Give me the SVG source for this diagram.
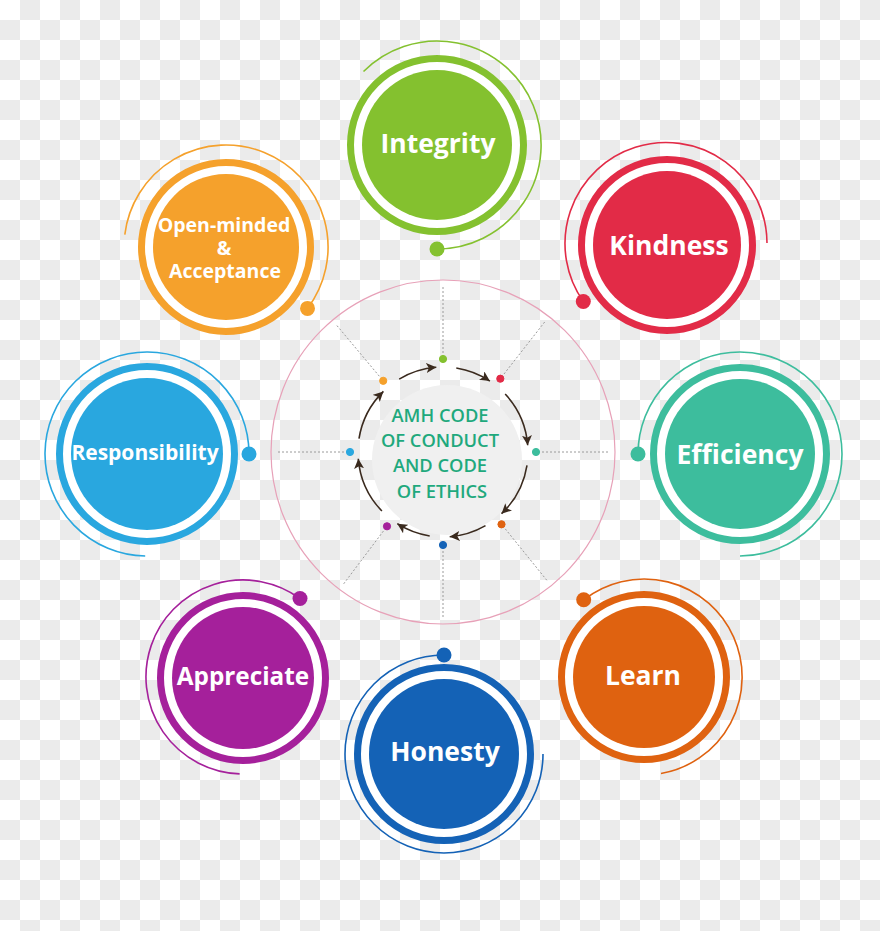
<svg xmlns="http://www.w3.org/2000/svg" width="880" height="931" viewBox="0 0 880 931">
<defs>
<pattern id="checker" width="40" height="40" patternUnits="userSpaceOnUse">
<rect width="40" height="40" fill="#ffffff"/>
<rect x="20" y="0" width="20" height="20" fill="#ebebeb"/>
<rect x="0" y="20" width="20" height="20" fill="#ebebeb"/>
</pattern>
<marker id="arrow" markerUnits="userSpaceOnUse" markerWidth="11" markerHeight="10" refX="10" refY="5" orient="auto">
<path d="M0,0 L10,5 L0,10 L2.5,5 z" fill="#3a2a1e"/>
</marker>
<style>
.thin{fill:none;stroke-width:1.6}
.ring{fill:#ffffff;stroke-width:7}
.lbl{font-family:"Open Sans","Liberation Sans",sans-serif;font-weight:700;fill:#ffffff;text-anchor:middle}
.ctr{font-family:"Open Sans","Liberation Sans",sans-serif;font-weight:600;font-size:18.3px;fill:#1fa97d;text-anchor:middle}
.dotted{stroke:#9a9a9a;stroke-width:1;stroke-dasharray:2 2;fill:none}
.flow{fill:none;stroke:#3a2a1e;stroke-width:1.6;marker-end:url(#arrow)}
.green{stroke:#84c12f;fill:#84c12f}
.red{stroke:#e22b47;fill:#e22b47}
.teal{stroke:#3dbd9d;fill:#3dbd9d}
.orange{stroke:#df6210;fill:#df6210}
.blue{stroke:#1462b6;fill:#1462b6}
.purple{stroke:#a5209b;fill:#a5209b}
.sky{stroke:#29a7df;fill:#29a7df}
.amber{stroke:#f5a12c;fill:#f5a12c}
</style>
</defs>
<rect width="880" height="931" fill="url(#checker)"/>

<g id="hub">
<circle cx="443" cy="452" r="172" fill="none" stroke="#e7a1b8" stroke-width="1.2"/>
<circle cx="447" cy="460" r="75" fill="#f0f0f0"/>
<text class="ctr" x="440" y="422">AMH CODE</text>
<text class="ctr" x="440" y="447">OF CONDUCT</text>
<text class="ctr" x="440" y="472">AND CODE</text>
<text class="ctr" x="442" y="498">OF ETHICS</text>
</g>

<g id="connectors">
<line class="dotted" x1="443" y1="353" x2="443" y2="286"/>
<line class="dotted" x1="504" y1="374" x2="545.3" y2="321.2"/>
<line class="dotted" x1="542" y1="452" x2="609" y2="452"/>
<line class="dotted" x1="505.3" y1="528.9" x2="547.4" y2="581"/>
<line class="dotted" x1="443" y1="551" x2="443" y2="618"/>
<line class="dotted" x1="383.4" y1="531.1" x2="343.1" y2="584.6"/>
<line class="dotted" x1="344" y1="452" x2="277" y2="452"/>
<line class="dotted" x1="379.3" y1="376.2" x2="336.3" y2="324.8"/>
<path class="flow" d="M399.2,379.1 A85,85 0 0 1 436.3,367.3"/>
<path class="flow" d="M456.3,368 A85,85 0 0 1 489.9,381.1"/>
<path class="flow" d="M505.2,394 A85,85 0 0 1 527.7,445.3"/>
<path class="flow" d="M527,465.3 A85,85 0 0 1 501.5,513.7"/>
<path class="flow" d="M485.5,525.6 A85,85 0 0 1 449.7,536.7"/>
<path class="flow" d="M429.7,536 A85,85 0 0 1 397.3,523.7"/>
<path class="flow" d="M381.9,511 A85,85 0 0 1 358.3,458.7"/>
<path class="flow" d="M359,438.7 A85,85 0 0 1 383.4,391.4"/>
<circle class="green" cx="443" cy="359" r="3.6"/>
<circle class="red" cx="500.3" cy="378.7" r="3.6"/>
<circle class="teal" cx="536" cy="452" r="3.6"/>
<circle class="orange" cx="501.5" cy="524.3" r="3.6"/>
<circle class="blue" cx="443" cy="545" r="3.6"/>
<circle class="purple" cx="387" cy="526.3" r="3.6"/>
<circle class="sky" cx="350" cy="452" r="3.6"/>
<circle class="amber" cx="383.2" cy="380.8" r="3.6"/>
</g>

<g id="integrity">
<path class="thin green" style="fill:none" d="M363.5,71.5 A104,104 0 1 1 437,249"/>
<circle class="ring green" style="fill:#fff" cx="437" cy="145" r="86.5"/>
<circle class="green" style="stroke:none" cx="437" cy="145" r="75"/>
<circle class="green" style="stroke:none" cx="437" cy="249" r="7.5"/>
<text class="lbl" x="438" y="152.5" font-size="26.5">Integrity</text>
</g>

<g id="kindness">
<path class="thin red" style="fill:none" d="M583.3,301.5 A101,101 0 1 1 767,243"/>
<circle class="ring red" style="fill:#fff" cx="667" cy="245" r="85.5"/>
<circle class="red" style="stroke:none" cx="667" cy="245" r="74"/>
<circle class="red" style="stroke:none" cx="583.3" cy="301.5" r="7.5"/>
<text class="lbl" x="669" y="255" font-size="26.5">Kindness</text>
</g>

<g id="efficiency">
<path class="thin teal" style="fill:none" d="M638,454 A102,102 0 1 1 740,556"/>
<circle class="ring teal" style="fill:#fff" cx="740" cy="454" r="86.5"/>
<circle class="teal" style="stroke:none" cx="740" cy="454" r="75"/>
<circle class="teal" style="stroke:none" cx="638" cy="454" r="7.5"/>
<text class="lbl" x="740" y="463.5" font-size="26.5">Efficiency</text>
</g>

<g id="learn">
<path class="thin orange" style="fill:none" d="M583.7,599.8 A98,98 0 1 1 661,773.5"/>
<circle class="ring orange" style="fill:#fff" cx="644" cy="677" r="82.5"/>
<circle class="orange" style="stroke:none" cx="644" cy="677" r="71"/>
<circle class="orange" style="stroke:none" cx="583.7" cy="599.8" r="7.5"/>
<text class="lbl" x="643" y="684.5" font-size="26.5">Learn</text>
</g>

<g id="honesty">
<path class="thin blue" style="fill:none" d="M444,655 A99,99 0 1 0 543,754"/>
<circle class="ring blue" style="fill:#fff" cx="444" cy="754" r="86.5"/>
<circle class="blue" style="stroke:none" cx="444" cy="754" r="75"/>
<circle class="blue" style="stroke:none" cx="444" cy="655" r="7.5"/>
<text class="lbl" x="445" y="760.5" font-size="26.5">Honesty</text>
</g>

<g id="appreciate">
<path class="thin purple" style="fill:none" d="M300,598.5 A97,97 0 1 0 239.6,773.9"/>
<circle class="ring purple" style="fill:#fff" cx="243" cy="678" r="82.5"/>
<circle class="purple" style="stroke:none" cx="243" cy="678" r="71"/>
<circle class="purple" style="stroke:none" cx="300" cy="598.5" r="7.5"/>
<text class="lbl" x="243" y="684.5" font-size="24.3">Appreciate</text>
</g>

<g id="responsibility">
<path class="thin sky" style="fill:none" d="M249,454 A102,102 0 1 0 145.2,556"/>
<circle class="ring sky" style="fill:#fff" cx="147" cy="454" r="87.5"/>
<circle class="sky" style="stroke:none" cx="147" cy="454" r="76"/>
<circle class="sky" style="stroke:none" cx="249" cy="454" r="7.5"/>
<text class="lbl" x="145" y="460" font-size="21">Responsibility</text>
</g>

<g id="open-minded">
<path class="thin amber" style="fill:none" d="M124.8,234.6 A102,102 0 1 1 307.5,308.4"/>
<circle class="ring amber" style="fill:#fff" cx="226" cy="247" r="84.5"/>
<circle class="amber" style="stroke:none" cx="226" cy="247" r="73"/>
<circle class="amber" style="stroke:none" cx="307.5" cy="308.4" r="7.5"/>
<text class="lbl" x="224" y="232" font-size="19.5">Open-minded</text>
<text class="lbl" x="224" y="255" font-size="19.5">&amp;</text>
<text class="lbl" x="225" y="278" font-size="19.5">Acceptance</text>
</g>
</svg>
